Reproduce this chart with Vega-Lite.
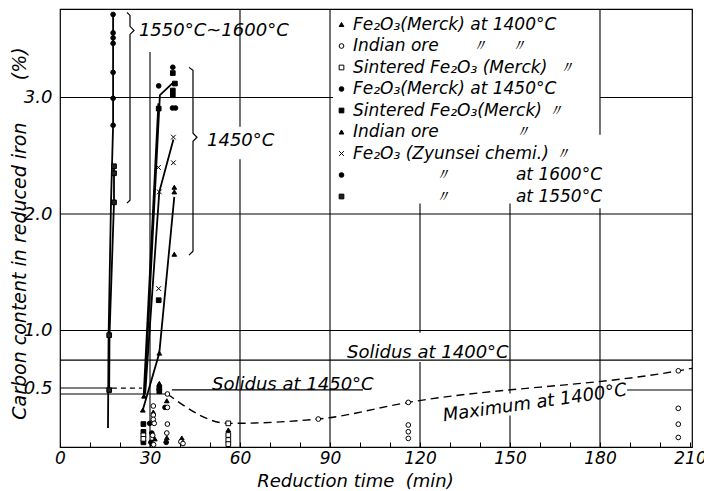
{
  "$schema": "https://vega.github.io/schema/vega-lite/v6.json",
  "width": 632,
  "height": 438,
  "autosize": {"type": "none"},
  "padding": {"left": 60, "top": 9, "right": 12, "bottom": 44},
  "background": "white",
  "config": {
    "view": {"stroke": "black", "strokeWidth": 1.2},
    "font": "DejaVu Sans",
    "axis": {"domain": false, "grid": false, "ticks": false, "labelFont": "DejaVu Sans", "labelFontStyle": "italic", "labelColor": "black", "titleFont": "DejaVu Sans", "titleFontStyle": "italic", "titleFontWeight": "normal", "titleColor": "black"}
  },
  "datasets": {
    "grid": [
      {"t": 30, "t2": 30, "v": 0, "v2": 3.39},
      {"t": 60, "t2": 60, "v": 0, "v2": 2.47},
      {"t": 60, "t2": 60, "v": 2.75, "v2": 3.76},
      {"t": 90, "t2": 90, "v": 0, "v2": 3.76},
      {"t": 120, "t2": 120, "v": 0, "v2": 0.73},
      {"t": 120, "t2": 120, "v": 0.98, "v2": 2.09},
      {"t": 150, "t2": 150, "v": 0, "v2": 0.27},
      {"t": 150, "t2": 150, "v": 0.46, "v2": 2.09},
      {"t": 180, "t2": 180, "v": 0, "v2": 2.05},
      {"t": 180, "t2": 180, "v": 2.68, "v2": 3.76},
      {"t": 0, "t2": 91, "v": 3, "v2": 3},
      {"t": 180, "t2": 210.67, "v": 3, "v2": 3},
      {"t": 0, "t2": 210.67, "v": 2, "v2": 2},
      {"t": 0, "t2": 210.67, "v": 1, "v2": 1},
      {"t": 0, "t2": 210.67, "v": 0.746, "v2": 0.746},
      {"t": 0, "t2": 15.8, "v": 0.506, "v2": 0.506},
      {"t": 37.3, "t2": 101, "v": 0.49, "v2": 0.49},
      {"t": 0, "t2": 35.5, "v": 0.455, "v2": 0.455},
      {"t": 189, "t2": 210.67, "v": 0.489, "v2": 0.489}
    ],
    "braces": [
      {"id": "A", "o": 1, "t": 22.33, "v": 3.731},
      {"id": "A", "o": 2, "t": 23.33, "v": 3.705},
      {"id": "A", "o": 3, "t": 23.33, "v": 3.611},
      {"id": "A", "o": 4, "t": 24.67, "v": 3.576},
      {"id": "A", "o": 5, "t": 23.33, "v": 3.542},
      {"id": "A", "o": 6, "t": 23.33, "v": 2.118},
      {"id": "A", "o": 7, "t": 22.33, "v": 2.093},
      {"id": "B", "o": 1, "t": 43.0, "v": 3.259},
      {"id": "B", "o": 2, "t": 44.33, "v": 3.233},
      {"id": "B", "o": 3, "t": 44.33, "v": 2.693},
      {"id": "B", "o": 4, "t": 45.67, "v": 2.659},
      {"id": "B", "o": 5, "t": 44.33, "v": 2.624},
      {"id": "B", "o": 6, "t": 44.33, "v": 1.681},
      {"id": "B", "o": 7, "t": 43.0, "v": 1.647}
    ],
    "lines": [
      {"id": "L1", "o": 1, "t": 17.7, "v": 3.713},
      {"id": "L1", "o": 2, "t": 17.7, "v": 2.762},
      {"id": "L1", "o": 3, "t": 17.0, "v": 2.10},
      {"id": "L1", "o": 4, "t": 16.2, "v": 0.96},
      {"id": "L1", "o": 5, "t": 16.0, "v": 0.163},
      {"id": "L2", "o": 1, "t": 18.0, "v": 2.41},
      {"id": "L2", "o": 2, "t": 18.0, "v": 2.10},
      {"id": "L2", "o": 3, "t": 16.5, "v": 0.96},
      {"id": "L2", "o": 4, "t": 16.4, "v": 0.489},
      {"id": "L3", "o": 1, "t": 28.2, "v": 0.45},
      {"id": "L3", "o": 2, "t": 33.3, "v": 3.02},
      {"id": "L3", "o": 3, "t": 37.8, "v": 3.13},
      {"id": "L4", "o": 1, "t": 27.9, "v": 0.44},
      {"id": "L4", "o": 2, "t": 32.8, "v": 2.95},
      {"id": "L5", "o": 1, "t": 28.4, "v": 0.46},
      {"id": "L5", "o": 2, "t": 33.1, "v": 2.19},
      {"id": "L5", "o": 3, "t": 37.8, "v": 2.64},
      {"id": "L6", "o": 1, "t": 27.6, "v": 0.317},
      {"id": "L6", "o": 2, "t": 33.1, "v": 0.806},
      {"id": "L6", "o": 3, "t": 38.1, "v": 2.147}
    ],
    "dashes": [
      {"id": "D1", "o": 1, "t": 17.3, "v": 0.506},
      {"id": "D1", "o": 2, "t": 27.3, "v": 0.506}
    ],
    "maxcurve": [
      {"o": 1, "t": 35.8, "v": 0.455},
      {"o": 2, "t": 56.1, "v": 0.203},
      {"o": 3, "t": 86.1, "v": 0.24},
      {"o": 4, "t": 116.1, "v": 0.383},
      {"o": 5, "t": 206.1, "v": 0.654},
      {"o": 6, "t": 210.67, "v": 0.675}
    ],
    "points": [
      {"s": "h", "t": 17.7, "v": 3.713}, {"s": "h", "t": 17.7, "v": 3.555}, {"s": "h", "t": 17.7, "v": 3.512},
      {"s": "h", "t": 17.7, "v": 3.465}, {"s": "h", "t": 17.7, "v": 3.216}, {"s": "h", "t": 17.7, "v": 2.993},
      {"s": "h", "t": 17.7, "v": 2.762},
      {"s": "i", "t": 18.0, "v": 2.41}, {"s": "i", "t": 18.0, "v": 2.35}, {"s": "i", "t": 18.0, "v": 2.10},
      {"s": "i", "t": 16.4, "v": 0.96}, {"s": "i", "t": 16.4, "v": 0.489},
      {"s": "d", "t": 32.9, "v": 3.10}, {"s": "d", "t": 37.6, "v": 3.26}, {"s": "d", "t": 37.5, "v": 2.91},
      {"s": "d", "t": 38.5, "v": 2.91}, {"s": "d", "t": 29.9, "v": 0.203}, {"s": "d", "t": 35.0, "v": 0.34},
      {"s": "d", "t": 30.6, "v": 0.12}, {"s": "d", "t": 35.4, "v": 0.04}, {"s": "d", "t": 30.3, "v": 0.04},
      {"s": "e", "t": 37.6, "v": 3.21}, {"s": "e", "t": 37.6, "v": 3.06}, {"s": "e", "t": 37.6, "v": 3.02},
      {"s": "e", "t": 38.3, "v": 3.12}, {"s": "e", "t": 32.9, "v": 2.905}, {"s": "e", "t": 32.9, "v": 1.26},
      {"s": "e", "t": 33.1, "v": 0.508}, {"s": "e", "t": 33.1, "v": 0.479}, {"s": "e", "t": 27.8, "v": 0.197},
      {"s": "e", "t": 27.8, "v": 0.13}, {"s": "e", "t": 27.8, "v": 0.04},
      {"s": "g", "t": 37.8, "v": 2.66}, {"s": "g", "t": 32.8, "v": 2.40}, {"s": "g", "t": 37.8, "v": 2.44},
      {"s": "g", "t": 33.1, "v": 2.19}, {"s": "g", "t": 32.9, "v": 1.36},
      {"s": "f", "t": 38.1, "v": 2.23}, {"s": "f", "t": 38.1, "v": 2.19}, {"s": "f", "t": 38.1, "v": 1.655},
      {"s": "f", "t": 33.1, "v": 0.806}, {"s": "f", "t": 27.6, "v": 0.317}, {"s": "f", "t": 28.0, "v": 0.437},
      {"s": "f", "t": 33.1, "v": 0.546},
      {"s": "a", "t": 31.1, "v": 0.30}, {"s": "a", "t": 35.6, "v": 0.397}, {"s": "a", "t": 56.1, "v": 0.146},
      {"s": "a", "t": 40.6, "v": 0.077}, {"s": "a", "t": 31.6, "v": 0.07}, {"s": "a", "t": 35.6, "v": 0.08},
      {"s": "b", "t": 35.8, "v": 0.455}, {"s": "b", "t": 86.1, "v": 0.24}, {"s": "b", "t": 116.1, "v": 0.383},
      {"s": "b", "t": 206.1, "v": 0.654}, {"s": "b", "t": 31.1, "v": 0.352}, {"s": "b", "t": 35.8, "v": 0.34},
      {"s": "b", "t": 31.1, "v": 0.274}, {"s": "b", "t": 31.1, "v": 0.237}, {"s": "b", "t": 31.4, "v": 0.203},
      {"s": "b", "t": 35.8, "v": 0.197}, {"s": "b", "t": 116.1, "v": 0.189}, {"s": "b", "t": 116.1, "v": 0.131},
      {"s": "b", "t": 116.1, "v": 0.074}, {"s": "b", "t": 206.1, "v": 0.332}, {"s": "b", "t": 206.1, "v": 0.196},
      {"s": "b", "t": 206.1, "v": 0.082}, {"s": "b", "t": 30.9, "v": 0.10}, {"s": "b", "t": 35.6, "v": 0.12},
      {"s": "b", "t": 40.3, "v": 0.045}, {"s": "b", "t": 41.0, "v": 0.03}, {"s": "b", "t": 31.2, "v": 0.02},
      {"s": "c", "t": 56.1, "v": 0.203}, {"s": "c", "t": 56.1, "v": 0.103}, {"s": "c", "t": 56.1, "v": 0.06},
      {"s": "c", "t": 56.1, "v": 0.025}, {"s": "c", "t": 27.8, "v": 0.10}, {"s": "c", "t": 27.8, "v": 0.07}
    ],
    "notes": [
      {"t": 26.3, "v": 3.525, "label": "1550°C~1600°C"},
      {"t": 49.0, "v": 2.58, "label": "1450°C"},
      {"t": 95.7, "v": 0.763, "label": "Solidus at 1400°C"},
      {"t": 50.7, "v": 0.492, "label": "Solidus at 1450°C"}
    ],
    "notes2": [
      {"t": 158.3, "v": 0.375, "label": "Maximum at 1400°C"}
    ]
  },
  "encoding": {
    "x": {
      "field": "t", "type": "quantitative",
      "scale": {"domain": [0, 210.67], "nice": false, "zero": false},
      "axis": {"values": [0, 10, 20, 30, 40, 50, 60, 70, 80, 90, 100, 110, 120, 130, 140, 150, 160, 170, 180, 190, 200, 210], "labelExpr": "datum.value % 30 === 0 ? datum.label : ''", "ticks": true, "tickSize": -5, "tickColor": "black", "tickWidth": 1, "labelFontSize": 17, "labelPadding": 8, "labelFlush": false, "labelBound": false, "labelOverlap": false, "title": "Reduction time\u00a0 (min)", "titleFontSize": 18, "titleX": 295, "titleY": 25, "titleBaseline": "top"}
    },
    "y": {
      "field": "v", "type": "quantitative",
      "scale": {"domain": [0, 3.76], "nice": false},
      "axis": {"values": [0.5, 1, 2, 3], "format": ".1f", "labelFontSize": 18, "labelPadding": 8, "title": "Carbon content in reduced iron\u00a0\u00a0\u00a0\u00a0\u00a0\u00a0\u00a0(%)", "titleFontSize": 19, "titleX": -35, "titleY": 224, "titleBaseline": "alphabetic"}
    }
  },
  "layer": [
    {
      "data": {"name": "grid"},
      "mark": {"type": "rule", "color": "black", "strokeWidth": 1.1},
      "encoding": {"x2": {"field": "t2"}, "y2": {"field": "v2"}}
    },
    {
      "data": {"name": "braces"},
      "mark": {"type": "line", "color": "black", "strokeWidth": 1.2},
      "encoding": {"detail": {"field": "id"}, "order": {"field": "o"}}
    },
    {
      "data": {"name": "lines"},
      "mark": {"type": "line", "color": "black", "strokeWidth": 1.8},
      "encoding": {"detail": {"field": "id"}, "order": {"field": "o"}}
    },
    {
      "data": {"name": "dashes"},
      "mark": {"type": "line", "color": "black", "strokeWidth": 1.2, "strokeDash": [5, 4]},
      "encoding": {"detail": {"field": "id"}, "order": {"field": "o"}}
    },
    {
      "data": {"name": "maxcurve"},
      "mark": {"type": "line", "color": "black", "strokeWidth": 1.4, "strokeDash": [8, 5], "interpolate": "monotone"},
      "encoding": {"order": {"field": "o"}}
    },
    {
      "data": {"name": "points"},
      "mark": {"type": "point", "filled": true, "stroke": "black", "strokeWidth": 1, "opacity": 1},
      "encoding": {
        "shape": {
          "field": "s", "type": "nominal",
          "scale": {"domain": ["a", "b", "c", "d", "e", "f", "g", "h", "i"], "range": ["triangle-up", "circle", "square", "circle", "square", "triangle-up", "M-1,-1L1,1M1,-1L-1,1", "circle", "square"]},
          "legend": {
            "orient": "none", "legendX": 273, "legendY": 7, "title": null, "padding": 0,
            "labelFont": "DejaVu Sans", "labelFontStyle": "italic", "labelFontSize": 17, "labelColor": "black",
            "labelOffset": 3, "labelLimit": 400, "rowPadding": 3.5,
            "symbolStrokeColor": "black", "symbolStrokeWidth": 1, "symbolOpacity": 1,
            "labelExpr": "{a:'Fe₂O₃(Merck) at 1400°C', b:'Indian ore\u00a0\u00a0\u00a0\u00a0\u00a0\u00a0〃\u00a0\u00a0\u00a0\u00a0〃', c:'Sintered Fe₂O₃ (Merck)\u00a0\u00a0〃', d:'Fe₂O₃(Merck) at 1450°C', e:'Sintered Fe₂O₃(Merck)\u00a0〃', f:'Indian ore\u00a0\u00a0\u00a0\u00a0\u00a0\u00a0\u00a0\u00a0\u00a0\u00a0\u00a0\u00a0\u00a0\u00a0〃', g:'Fe₂O₃ (Zyunsei chemi.)\u00a0〃', h:'\u200b\u00a0\u00a0\u00a0\u00a0\u00a0\u00a0\u00a0\u00a0\u00a0\u00a0\u00a0\u00a0\u00a0\u00a0\u00a0〃\u00a0\u00a0\u00a0\u00a0\u00a0\u00a0\u00a0\u00a0\u00a0\u00a0\u00a0\u00a0at 1600°C', i:'\u200b\u00a0\u00a0\u00a0\u00a0\u00a0\u00a0\u00a0\u00a0\u00a0\u00a0\u00a0\u00a0\u00a0\u00a0\u00a0〃\u00a0\u00a0\u00a0\u00a0\u00a0\u00a0\u00a0\u00a0\u00a0\u00a0\u00a0\u00a0at 1550°C'}[datum.value]"
          }
        },
        "fill": {
          "field": "s", "type": "nominal",
          "scale": {"domain": ["a", "b", "c", "d", "e", "f", "g", "h", "i"], "range": ["black", "white", "white", "black", "black", "black", "black", "black", "#222222"]}
        },
        "size": {
          "field": "s", "type": "nominal",
          "scale": {"domain": ["a", "b", "c", "d", "e", "f", "g", "h", "i"], "range": [22, 22, 20, 18, 18, 22, 30, 40, 40]}
        }
      }
    },
    {
      "data": {"name": "notes"},
      "mark": {"type": "text", "align": "left", "baseline": "alphabetic", "fontSize": 18, "fontStyle": "italic", "font": "DejaVu Sans", "color": "black"},
      "encoding": {"text": {"field": "label"}}
    },
    {
      "data": {"name": "notes2"},
      "mark": {"type": "text", "align": "center", "baseline": "middle", "angle": -8, "fontSize": 18, "fontStyle": "italic", "font": "DejaVu Sans", "color": "black"},
      "encoding": {"text": {"field": "label"}}
    }
  ]
}
